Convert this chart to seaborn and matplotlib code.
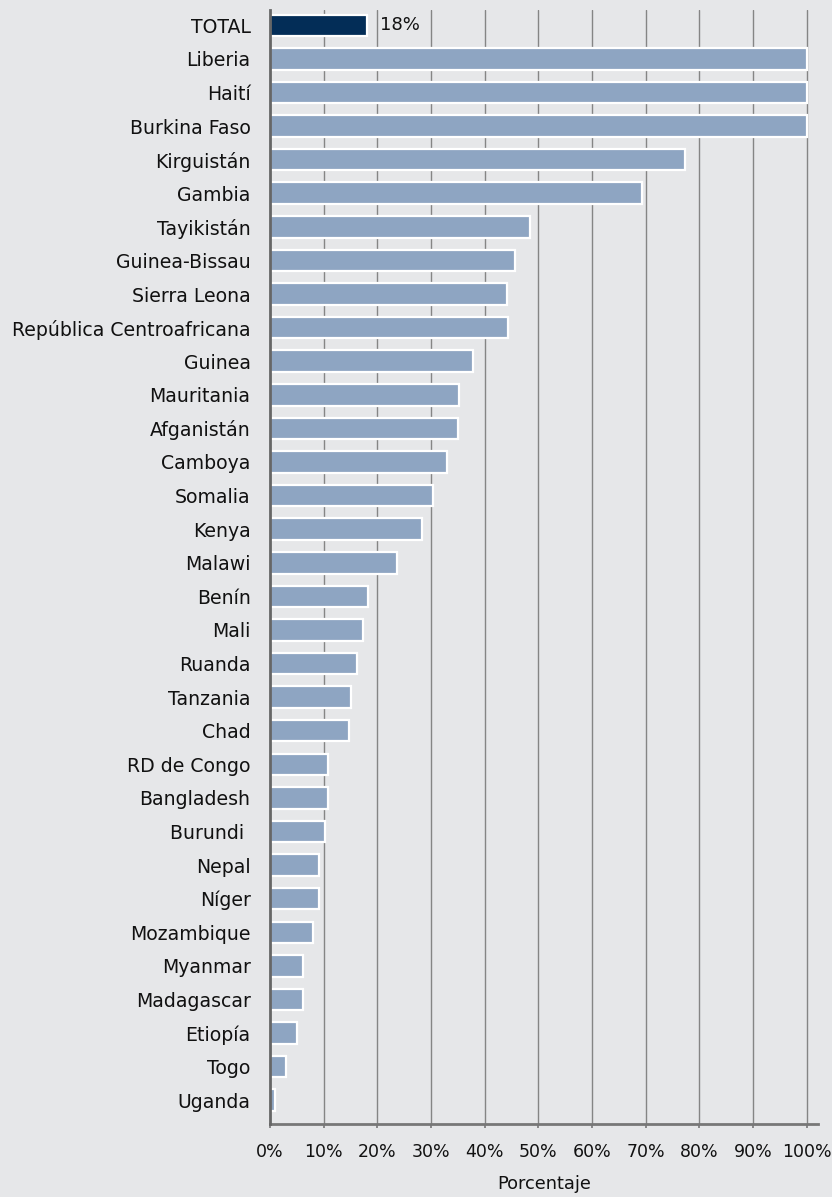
import matplotlib
matplotlib.use("Agg")
import matplotlib.pyplot as plt
import seaborn as sns
import pandas as pd

# Share of population (%) by country, with the overall total first
countries = [
    "TOTAL", "Liberia", "Haití", "Burkina Faso", "Kirguistán", "Gambia",
    "Tayikistán", "Guinea-Bissau", "Sierra Leona", "República Centroafricana",
    "Guinea", "Mauritania", "Afganistán", "Camboya", "Somalia", "Kenya",
    "Malawi", "Benín", "Mali", "Ruanda", "Tanzania", "Chad", "RD de Congo",
    "Bangladesh", "Burundi ", "Nepal", "Níger", "Mozambique", "Myanmar",
    "Madagascar", "Etiopía", "Togo", "Uganda",
]
values = [
    18, 100, 100, 100, 77.4, 69.3,
    48.5, 45.6, 44.1, 44.3,
    37.8, 35.2, 35.1, 33.0, 30.3, 28.3,
    23.7, 18.2, 17.3, 16.3, 15.1, 14.8, 10.9,
    10.8, 10.3, 9.1, 9.1, 8.0, 6.2,
    6.2, 5.1, 2.9, 1.0,
]
x_ticks = [0, 10, 20, 30, 40, 50, 60, 70, 80, 90, 100]
x_tick_labels = [f"{t}%" for t in x_ticks]
total_label = "18%"
x_title = "Porcentaje"

BG = "#e6e7e9"
BAR = "#8ea5c2"
NAVY = "#032d57"
GRID = "#858585"

sns.set_style("white", {"axes.facecolor": BG, "figure.facecolor": BG})
plt.rcParams["font.family"] = ["DejaVu Sans"]

df = pd.DataFrame({"country": countries, "value": values})
palette = {c: (NAVY if c == "TOTAL" else BAR) for c in countries}

fig = plt.figure(figsize=(8.32, 11.97), dpi=100)
ax = fig.add_axes([0.3245, 0.061, 0.6585, 0.9306])
ax.set_facecolor(BG)

# vertical gridlines behind the bars
for t in x_ticks[1:]:
    ax.axvline(t, color=GRID, lw=1.0, zorder=0)

sns.barplot(
    data=df, x="value", y="country", hue="country", palette=palette,
    legend=False, orient="h", width=0.64, edgecolor="white", linewidth=1.6,
    saturation=1, ax=ax, zorder=2,
)

ax.set_xlim(0, 102.1)
ax.set_ylim(len(countries) - 1 + 0.707, -0.453)

# value label on the total bar
ax.annotate(total_label, xy=(values[0], 0), xytext=(10, 0),
            textcoords="offset points", va="center", ha="left",
            fontsize=13, color="#111111", zorder=3)

ax.set_xticks(x_ticks)
ax.set_xticklabels(x_tick_labels, fontsize=12.5, color="#111111")
ax.tick_params(axis="x", direction="out", length=3, width=1.2,
               color="#777777", pad=11, bottom=True)
ax.tick_params(axis="y", length=0, pad=14, labelsize=13.6, labelcolor="#111111")
ax.set_ylabel("")
ax.set_xlabel(x_title, fontsize=12.8, color="#111111", labelpad=10)

for side in ("top", "right"):
    ax.spines[side].set_visible(False)
ax.spines["left"].set_color("#666666")
ax.spines["left"].set_linewidth(2)
ax.spines["bottom"].set_color("#777777")
ax.spines["bottom"].set_linewidth(2)
ax.spines["left"].set_zorder(4)

fig.savefig("out.png", dpi=100, facecolor=BG)
